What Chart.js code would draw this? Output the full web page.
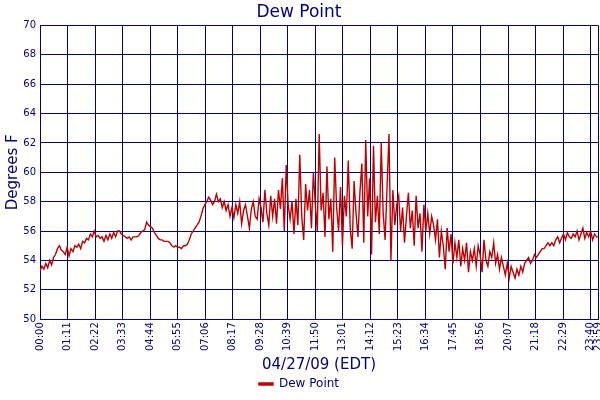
<!DOCTYPE html>
<html><head><meta charset="utf-8">
<script src="https://cdn.jsdelivr.net/npm/chart.js@4"></script>
<style>html,body{margin:0;padding:0;background:#fff}#w{width:600px;height:400px}</style>
</head><body><div id="w"><canvas id="c"></canvas></div>
<script>
const tickLabels=["00:00","01:11","02:22","03:33","04:44","05:55","07:06","08:17","09:28","10:39","11:50","13:01","14:12","15:23","16:34","17:45","18:56","20:07","21:18","22:29","23:40","23:59"];
const yTicks=[50,52,54,56,58,60,62,64,66,68,70];
const sampleMinutes=5;
const dewPoint=[
53.3,53.6,53.4,53.8,53.5,54.0,53.7,54.2,54.4,54.8,55.0,54.7,
54.6,54.4,54.9,54.3,54.8,54.6,55.0,54.9,55.1,54.8,55.3,55.2,
55.5,55.4,55.8,55.6,56.0,55.6,55.7,55.5,55.6,55.3,55.7,55.4,
55.8,55.5,55.9,55.6,56.0,56.0,55.8,55.7,55.6,55.5,55.6,55.4,
55.6,55.6,55.6,55.7,55.9,56.0,56.1,56.6,56.4,56.3,56.2,55.9,
55.7,55.5,55.4,55.4,55.3,55.3,55.3,55.2,55.0,54.9,55.0,54.9,
54.9,54.8,55.0,55.0,55.1,55.4,55.8,56.0,56.2,56.4,56.6,57.0,
57.5,57.8,58.0,58.3,58.1,57.8,58.0,58.5,58.0,58.2,57.6,58.0,
57.4,57.8,57.0,57.6,56.9,57.8,57.2,58.0,56.5,57.4,57.8,57.0,
56.2,57.5,58.0,57.0,56.8,58.2,57.6,56.6,58.8,57.2,56.4,58.4,
57.0,58.2,56.5,58.8,57.5,59.6,56.0,60.5,57.8,56.8,58.0,55.8,
58.2,56.4,61.2,57.0,55.4,59.2,57.4,58.8,56.2,60.0,57.8,56.0,
62.6,57.4,58.6,55.6,60.4,56.8,58.2,54.6,61.0,57.6,56.0,59.0,
55.0,58.4,57.0,60.8,56.2,54.8,59.4,57.2,55.6,58.6,60.6,55.2,
62.2,57.0,59.6,54.4,61.8,56.6,58.4,55.8,62.0,57.2,55.4,59.0,
62.6,54.0,58.8,56.4,57.8,58.4,56.0,57.6,55.2,57.0,58.6,56.2,
57.4,55.0,58.4,56.2,57.2,54.6,57.8,56.0,57.2,55.8,57.0,56.4,
55.4,56.8,54.2,56.0,55.0,53.4,56.2,54.6,55.8,53.8,55.2,54.2,
55.4,53.6,54.8,54.0,55.2,53.2,54.6,54.0,54.8,53.6,55.0,54.4,
53.2,55.4,54.0,53.6,54.6,54.2,55.2,53.8,54.4,53.4,54.2,53.6,
53.0,53.8,52.8,53.6,53.2,52.8,53.4,53.0,53.6,53.2,53.8,54.0,
54.2,53.8,54.0,54.4,54.2,54.4,54.6,54.8,54.8,55.0,55.2,55.0,
55.2,55.0,55.4,55.6,55.2,55.5,55.8,55.4,55.9,55.6,55.5,55.8,
55.6,56.0,55.4,55.8,56.2,55.5,55.9,55.6,56.0,55.4,55.8,55.6,
55.6];
const toMin=s=>{const [h,m]=s.split(':').map(Number);return h*60+m;};
const pts=dewPoint.map((v,i)=>({x:Math.min(i*sampleMinutes,1439),y:v}));
const navy='#000080', F='DejaVu Sans';
new Chart(document.getElementById('c'),{
type:'line',
data:{datasets:[{label:'Dew Point',data:pts,borderColor:'#c00000',backgroundColor:'#c00000',borderWidth:1.4,pointRadius:0,tension:0}]},
options:{responsive:true,maintainAspectRatio:false,animation:false,
layout:{padding:{right:2,top:0}},
plugins:{
title:{display:true,text:'Dew Point',color:navy,font:{family:F,size:17,weight:'normal'},padding:{top:2,bottom:3}},
legend:{position:'bottom',labels:{color:navy,font:{family:F,size:12},boxWidth:14,boxHeight:2,padding:4}},
tooltip:{enabled:false}},
scales:{
x:{type:'linear',min:0,max:1439,
afterBuildTicks:a=>{a.ticks=tickLabels.map(l=>({value:toMin(l),label:l}));},
afterFit:s=>{s.paddingLeft=0;s.paddingRight=0;},
ticks:{color:navy,font:{family:F,size:10},minRotation:90,maxRotation:90,autoSkip:false,padding:3,
callback:(v)=>{const t=tickLabels.find(l=>toMin(l)===v);return t;}},
grid:{color:navy,lineWidth:1,drawTicks:false},border:{color:navy},
title:{display:true,text:'04/27/09 (EDT)',color:navy,font:{family:F,size:15},padding:{top:2,bottom:0}}},
y:{min:50,max:70,afterBuildTicks:a=>{a.ticks=yTicks.map(v=>({value:v}));},
afterFit:s=>{s.width=40;},
ticks:{color:navy,font:{family:F,size:10},padding:4},
grid:{color:navy,lineWidth:1,drawTicks:false},border:{color:navy},
title:{display:true,text:'Degrees F',color:navy,font:{family:F,size:15},padding:{bottom:2}}}
}}});
</script></body></html>
